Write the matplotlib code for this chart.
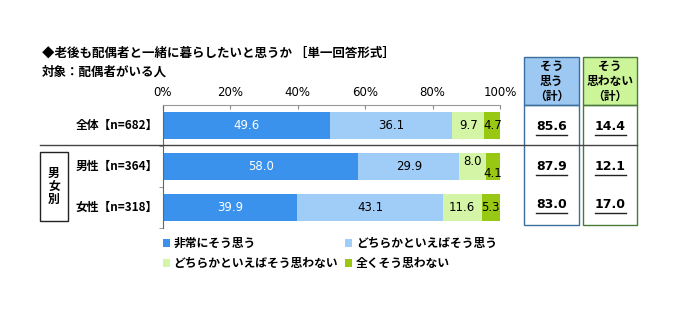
import numpy as np
import matplotlib.pyplot as plt
from matplotlib.patches import Rectangle, Patch
from matplotlib.lines import Line2D

plt.rcParams['font.family'] = ['Noto Sans CJK JP', 'DejaVu Sans']
plt.rcParams['font.weight'] = 'bold'

# データ
groups = ['全体【n=682】', '男性【n=364】', '女性【n=318】']
answers = ['非常にそう思う', 'どちらかといえばそう思う',
           'どちらかといえばそう思わない', '全くそう思わない']
values = np.array([
    [49.6, 36.1, 9.7, 4.7],
    [58.0, 29.9, 8.0, 4.1],
    [39.9, 43.1, 11.6, 5.3],
])
agree_total = [85.6, 87.9, 83.0]
disagree_total = [14.4, 12.1, 17.0]
colors = ['#3A92EC', '#A0CCF8', '#D4F5A6', '#99C814']
label_colors = ['white', 'black', 'black', 'black']

W, H = 679, 322
fig = plt.figure(figsize=(W / 100, H / 100), dpi=100)


def fx(px):
    return px / W


def fy(py):
    return 1 - py / H


ax = fig.add_axes([fx(163), fy(228), fx(500) - fx(163), fy(105) - fy(228)])
ypos = np.arange(len(groups))
left = np.zeros(len(groups))
for j in range(len(answers)):
    ax.barh(ypos, values[:, j], left=left, height=0.66, color=colors[j],
            label=answers[j])
    for i in range(len(groups)):
        v = values[i, j]
        cx = left[i] + v / 2
        dy = 0
        if i == 1 and j == 2:
            dy = -0.12
        if i == 1 and j == 3:
            dy = 0.17
        ax.text(cx, ypos[i] + dy, f'{v:.1f}', ha='center', va='center',
                fontsize=8.5, fontweight='normal', color=label_colors[j],
                family=['DejaVu Sans'])
    left += values[:, j]

ax.set_xlim(0, 100)
ax.set_ylim(2.5, -0.5)
ax.xaxis.tick_top()
ax.set_xticks(np.arange(0, 101, 20))
ax.set_xticklabels([f'{t}%' for t in range(0, 101, 20)], fontsize=8.5,
                   fontweight='normal', family=['DejaVu Sans'])
ax.tick_params(axis='x', direction='in', length=3, color='#888888', pad=4)
ax.set_yticks([])
ax.set_yticks([0.5, 1.5, 2.5], minor=True)
ax.tick_params(axis='y', which='minor', length=3, color='#888888')
for s in ['right', 'bottom']:
    ax.spines[s].set_visible(False)
ax.spines['top'].set_color('#999999')
ax.spines['left'].set_color('#666666')
ax.spines['top'].set_linewidth(0.8)

# 行ラベル
for i, g in enumerate(groups):
    y_px = 125.5 + 41 * i
    fig.text(fx(158), fy(y_px), g, ha='right', va='center', fontsize=8.5)

# 区切り線
fig.add_artist(Line2D([fx(40), fx(637)], [fy(145), fy(145)],
                      color='#444444', lw=1))

# 男女別の枠
fig.add_artist(Rectangle((fx(40), fy(221)), fx(68) - fx(40), fy(152) - fy(221),
                         fill=False, ec='#222222', lw=1))
fig.text(fx(54), fy(186), '男\n女\n別', ha='center', va='center',
         fontsize=8.5, linespacing=1.0)

# タイトル
fig.text(fx(42), fy(53), '◆老後も配偶者と一緒に暮らしたいと思うか ［単一回答形式］',
         ha='left', va='center', fontsize=9)
fig.text(fx(42), fy(72), '対象：配偶者がいる人', ha='left', va='center',
         fontsize=9)

# 右側の集計表
table_cols = [
    (524, 579, '#9DC8F2', '#3C6E9E', 'そう\n思う\n（計）', agree_total),
    (583, 637, '#CCF59A', '#4A7A3A', 'そう\n思わない\n（計）', disagree_total),
]
renderer = fig.canvas.get_renderer()
for x0, x1, fill, edge, head, vals in table_cols:
    fig.add_artist(Rectangle((fx(x0), fy(105)), fx(x1) - fx(x0),
                             fy(57) - fy(105), fc=fill, ec=edge, lw=1))
    fig.add_artist(Rectangle((fx(x0), fy(225)), fx(x1) - fx(x0),
                             fy(105) - fy(225), fill=False, ec=edge, lw=1))
    cx = (x0 + x1) / 2
    fig.text(fx(cx), fy(81.5), head, ha='center', va='center', fontsize=8.5,
             linespacing=1.2)
    for i, v in enumerate(vals):
        y_px = [127, 167, 205][i]
        t = fig.text(fx(cx), fy(y_px), f'{v:.1f}', ha='center', va='center',
                     fontsize=9, family=['DejaVu Sans'])
        bb = t.get_window_extent(renderer)
        fig.add_artist(Line2D([bb.x0 / W, bb.x1 / W],
                              [fy(y_px + 8), fy(y_px + 8)], color='#222222',
                              lw=1))

# 凡例
h, l = ax.get_legend_handles_labels()
order = [0, 2, 1, 3]
fig.legend([h[k] for k in order], [l[k] for k in order], ncol=2,
           loc='upper left', bbox_to_anchor=(fx(163), fy(237)), frameon=False,
           fontsize=8.5, handlelength=0.6, handleheight=0.6, handletextpad=0.3,
           columnspacing=0.6, labelspacing=0.6, borderaxespad=0, borderpad=0)

fig.savefig('out.png', dpi=100)
